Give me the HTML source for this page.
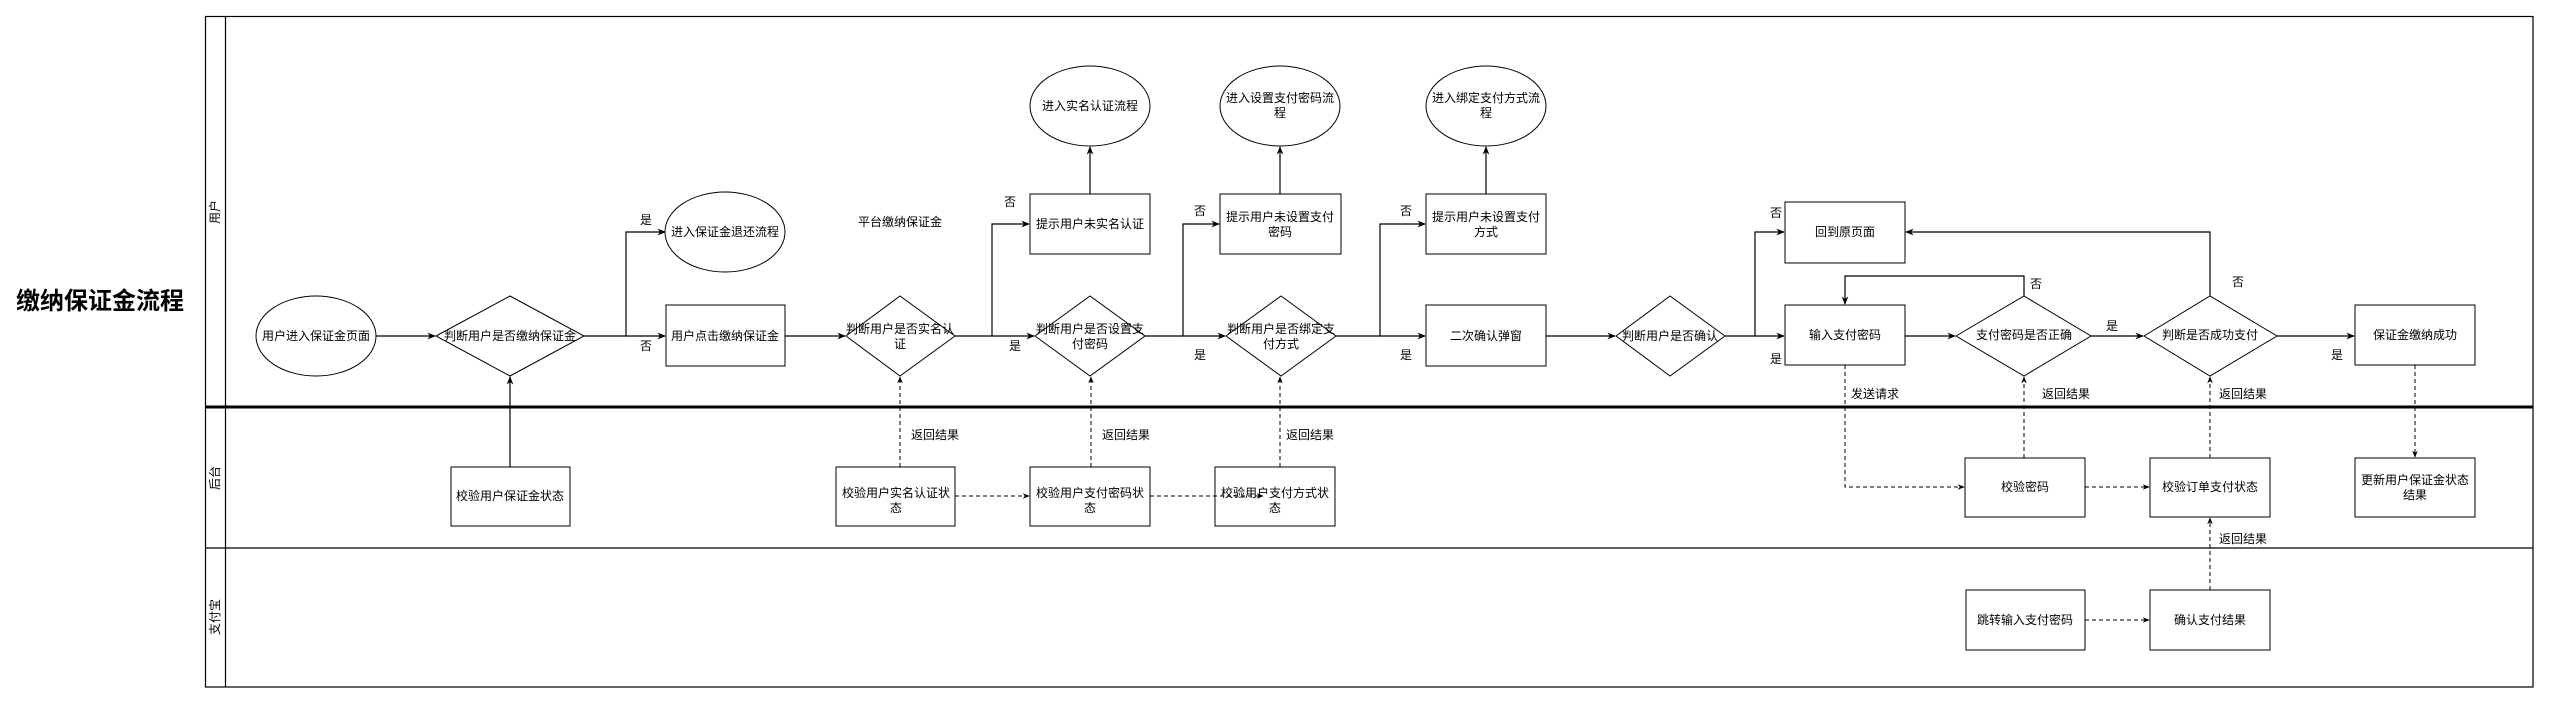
<!DOCTYPE html>
<html><head><meta charset="utf-8"><style>
html,body{margin:0;padding:0;background:#fff;}
svg{display:block;font-family:"Liberation Sans","Noto Sans CJK SC",sans-serif;}
</style></head><body>
<svg width="2552" height="704" viewBox="0 0 2552 704" xmlns="http://www.w3.org/2000/svg">
<defs>
<marker id="a" viewBox="0 0 10 10" refX="9" refY="5" markerWidth="7" markerHeight="7" orient="auto-start-reverse"><path d="M0,1 L10,5 L0,9 L3,5 z" fill="#000"/></marker>
</defs>
<rect width="2552" height="704" fill="#fff"/>
<text x="100" y="309" font-size="24" font-weight="bold" text-anchor="middle">缴纳保证金流程</text>
<g fill="none" stroke="#000" stroke-width="1.2">
<rect x="205.5" y="16.5" width="2327.5" height="670.5"/>
<line x1="225.5" y1="16.5" x2="225.5" y2="687"/>
<line x1="205.5" y1="548" x2="2533" y2="548"/>
</g>
<line x1="205.5" y1="407" x2="2533" y2="407" stroke="#000" stroke-width="3"/>
<g font-size="12" text-anchor="middle">
<text transform="translate(219,212) rotate(-90)">用户</text>
<text transform="translate(219,478) rotate(-90)">后台</text>
<text transform="translate(219,617) rotate(-90)">支付宝</text>
</g>
<g fill="#fff" stroke="#000" stroke-width="1">
<ellipse cx="316" cy="336" rx="60" ry="40"/>
<polygon points="436,336 510,296 584,336 510,376"/>
<ellipse cx="725" cy="232" rx="60" ry="40"/>
<rect x="666" y="305" width="119" height="61"/>
<rect x="451" y="467" width="119" height="59"/>
<polygon points="846,336 900,296 955,336 900,376"/>
<rect x="1030" y="194" width="120" height="60"/>
<ellipse cx="1090" cy="106" rx="60" ry="40"/>
<polygon points="1035,336 1090,296 1145,336 1090,376"/>
<rect x="1220" y="194" width="121" height="60"/>
<ellipse cx="1280" cy="106" rx="60" ry="40"/>
<polygon points="1226,336 1281,296 1336,336 1281,376"/>
<rect x="1426" y="194" width="120" height="60"/>
<ellipse cx="1486" cy="106" rx="60" ry="40"/>
<rect x="1426" y="305" width="120" height="61"/>
<polygon points="1616,336 1670,296 1725,336 1670,376"/>
<rect x="836" y="467" width="119" height="59"/>
<rect x="1030" y="467" width="120" height="59"/>
<rect x="1215" y="467" width="120" height="59"/>
<rect x="1785" y="202" width="120" height="61"/>
<rect x="1785" y="305" width="120" height="60"/>
<polygon points="1956,336 2024,296 2091,336 2024,376"/>
<polygon points="2144,336 2210,296 2277,336 2210,376"/>
<rect x="2355" y="305" width="120" height="60"/>
<rect x="1965" y="458" width="120" height="59"/>
<rect x="2150" y="458" width="120" height="59"/>
<rect x="2355" y="458" width="120" height="59"/>
<rect x="1966" y="590" width="119" height="60"/>
<rect x="2150" y="590" width="120" height="60"/>
</g>
<g fill="none" stroke="#000" stroke-width="1.2">
<line x1="376" y1="336" x2="435" y2="336" marker-end="url(#a)"/>
<polyline points="584,336 626,336 626,232 665,232" marker-end="url(#a)"/>
<line x1="626" y1="336" x2="665" y2="336" marker-end="url(#a)"/>
<line x1="510" y1="467" x2="510" y2="377" marker-end="url(#a)"/>
<line x1="785" y1="336" x2="845" y2="336" marker-end="url(#a)"/>
<polyline points="955,336 992,336 992,224 1029,224" marker-end="url(#a)"/>
<line x1="992" y1="336" x2="1034" y2="336" marker-end="url(#a)"/>
<line x1="1090" y1="194" x2="1090" y2="147" marker-end="url(#a)"/>
<polyline points="1145,336 1183,336 1183,224 1219,224" marker-end="url(#a)"/>
<line x1="1183" y1="336" x2="1225" y2="336" marker-end="url(#a)"/>
<line x1="1280" y1="194" x2="1280" y2="147" marker-end="url(#a)"/>
<polyline points="1336,336 1380,336 1380,224 1425,224" marker-end="url(#a)"/>
<line x1="1380" y1="336" x2="1425" y2="336" marker-end="url(#a)"/>
<line x1="1486" y1="194" x2="1486" y2="147" marker-end="url(#a)"/>
<line x1="1546" y1="336" x2="1615" y2="336" marker-end="url(#a)"/>
<polyline points="1725,336 1755,336 1755,232 1784,232" marker-end="url(#a)"/>
<line x1="1755" y1="336" x2="1784" y2="336" marker-end="url(#a)"/>
<line x1="1905" y1="336" x2="1955" y2="336" marker-end="url(#a)"/>
<polyline points="2024,296 2024,276 1845,276 1845,304" marker-end="url(#a)"/>
<line x1="2091" y1="336" x2="2143" y2="336" marker-end="url(#a)"/>
<polyline points="2210,296 2210,232 1906,232" marker-end="url(#a)"/>
<line x1="2277" y1="336" x2="2354" y2="336" marker-end="url(#a)"/>
</g>
<g fill="none" stroke="#000" stroke-width="1" stroke-dasharray="4,3">
<line x1="900" y1="467" x2="900" y2="377" marker-end="url(#a)"/>
<line x1="1091" y1="467" x2="1091" y2="377" marker-end="url(#a)"/>
<line x1="1280" y1="467" x2="1280" y2="377" marker-end="url(#a)"/>
<line x1="955" y1="496" x2="1029" y2="496" marker-end="url(#a)"/>
<line x1="1150" y1="496" x2="1263" y2="496" marker-end="url(#a)"/>
<polyline points="1845,365 1845,487 1964,487" marker-end="url(#a)"/>
<line x1="2024" y1="458" x2="2024" y2="377" marker-end="url(#a)"/>
<line x1="2085" y1="487" x2="2149" y2="487" marker-end="url(#a)"/>
<line x1="2210" y1="458" x2="2210" y2="377" marker-end="url(#a)"/>
<line x1="2415" y1="365" x2="2415" y2="457" marker-end="url(#a)"/>
<line x1="2085" y1="620" x2="2149" y2="620" marker-end="url(#a)"/>
<line x1="2210" y1="590" x2="2210" y2="518" marker-end="url(#a)"/>
</g>
<g font-size="12" text-anchor="middle">
<text x="316" y="340">用户进入保证金页面</text>
<text x="510" y="340">判断用户是否缴纳保证金</text>
<text x="725" y="236">进入保证金退还流程</text>
<text x="725" y="340">用户点击缴纳保证金</text>
<text x="510" y="500">校验用户保证金状态</text>
<text x="646" y="224">是</text>
<text x="646" y="350">否</text>
<text x="900" y="226">平台缴纳保证金</text>
<text x="900" y="333">判断用户是否实名认</text><text x="900" y="348">证</text>
<text x="1090" y="228">提示用户未实名认证</text>
<text x="1090" y="110">进入实名认证流程</text>
<text x="1010" y="206">否</text>
<text x="1015" y="350">是</text>
<text x="1090" y="333">判断用户是否设置支</text><text x="1090" y="348">付密码</text>
<text x="1280" y="221">提示用户未设置支付</text><text x="1280" y="236">密码</text>
<text x="1280" y="102">进入设置支付密码流</text><text x="1280" y="117">程</text>
<text x="1200" y="215">否</text>
<text x="1200" y="359">是</text>
<text x="1281" y="333">判断用户是否绑定支</text><text x="1281" y="348">付方式</text>
<text x="1486" y="221">提示用户未设置支付</text><text x="1486" y="236">方式</text>
<text x="1486" y="102">进入绑定支付方式流</text><text x="1486" y="117">程</text>
<text x="1406" y="215">否</text>
<text x="1406" y="359">是</text>
<text x="1486" y="340">二次确认弹窗</text>
<text x="1670" y="340">判断用户是否确认</text>
<text x="896" y="497">校验用户实名认证状</text><text x="896" y="512">态</text>
<text x="1090" y="497">校验用户支付密码状</text><text x="1090" y="512">态</text>
<text x="1275" y="497">校验用户支付方式状</text><text x="1275" y="512">态</text>
<text x="935" y="439">返回结果</text>
<text x="1126" y="439">返回结果</text>
<text x="1310" y="439">返回结果</text>
<text x="1845" y="236">回到原页面</text>
<text x="1845" y="339">输入支付密码</text>
<text x="1776" y="217">否</text>
<text x="1776" y="363">是</text>
<text x="2024" y="339">支付密码是否正确</text>
<text x="2036" y="288">否</text>
<text x="2112" y="330">是</text>
<text x="2210" y="339">判断是否成功支付</text>
<text x="2238" y="286">否</text>
<text x="2415" y="339">保证金缴纳成功</text>
<text x="2337" y="359">是</text>
<text x="1875" y="398">发送请求</text>
<text x="2066" y="398">返回结果</text>
<text x="2243" y="398">返回结果</text>
<text x="2025" y="491">校验密码</text>
<text x="2210" y="491">校验订单支付状态</text>
<text x="2415" y="484">更新用户保证金状态</text><text x="2415" y="499">结果</text>
<text x="2243" y="543">返回结果</text>
<text x="2025" y="624">跳转输入支付密码</text>
<text x="2210" y="624">确认支付结果</text>
</g>
</svg>
</body></html>
